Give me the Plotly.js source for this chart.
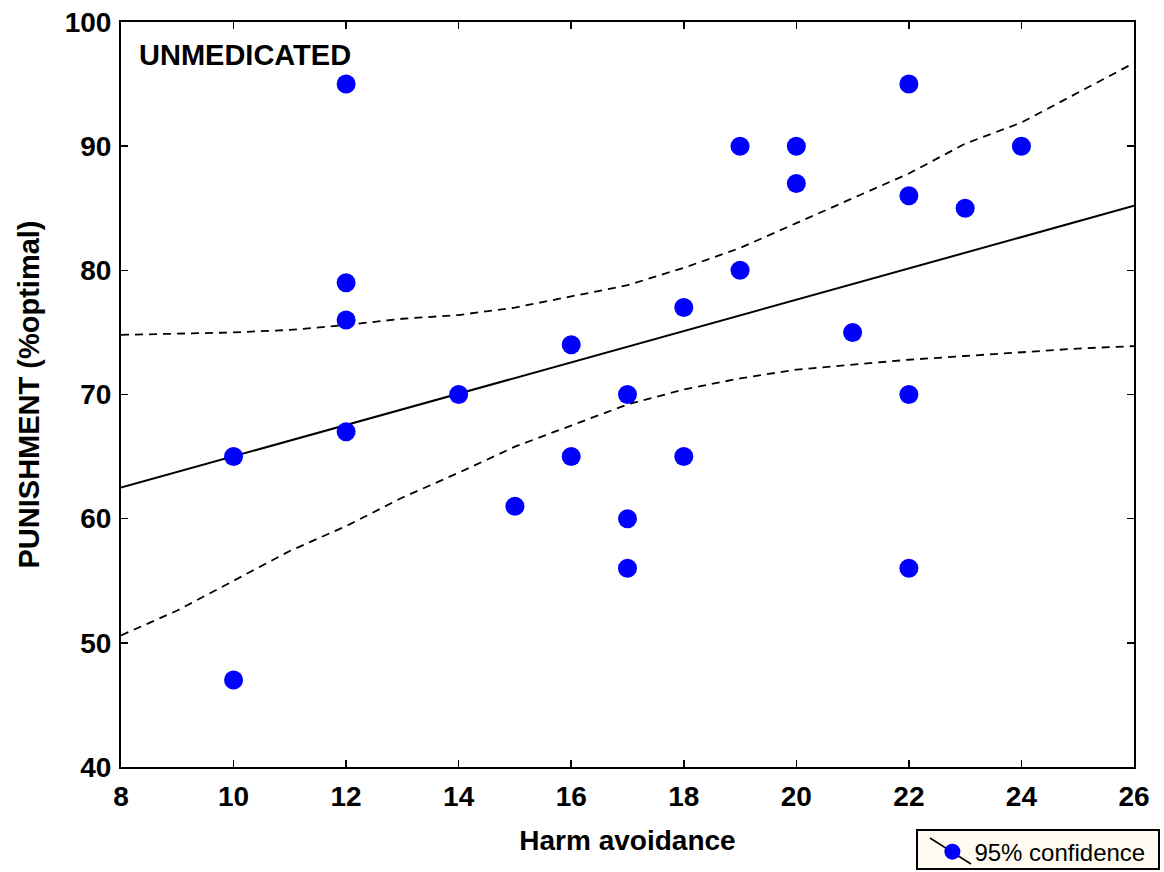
<!DOCTYPE html>
<html>
<head>
<meta charset="utf-8">
<script src="https://cdn.plot.ly/plotly-3.0.1.min.js"></script>
<style>
  html, body { margin: 0; padding: 0; background: #ffffff; }
  #chart { width: 1164px; height: 872px; }
</style>
</head>
<body>
<div id="chart"></div>
<script>
// Harm avoidance score vs. punishment learning (% optimal), unmedicated group
const harmAvoidance = [10, 10, 12, 12, 12, 12, 14, 15, 16, 16, 17, 17, 17, 18, 18, 19, 19, 20, 20, 21, 22, 22, 22, 22, 23, 24];
const punishment    = [65, 47, 95, 79, 76, 67, 70, 61, 74, 65, 70, 60, 56, 77, 65, 90, 80, 90, 87, 75, 95, 86, 70, 56, 85, 90];

// Linear fit end points
const fitX = [8, 26];
const fitY = [62.5, 85.2];

// 95% confidence band
const bandX     = [8, 9, 10, 11, 12, 13, 14, 15, 16, 17, 18, 19, 20, 21, 22, 23, 24, 25, 26];
const bandUpper = [74.8, 74.9, 75.0, 75.2, 75.6, 76.1, 76.4, 77.0, 77.9, 78.8, 80.2, 81.8, 83.8, 85.8, 87.8, 90.2, 91.9, 94.3, 96.7];
const bandLower = [50.6, 52.6, 55.0, 57.4, 59.4, 61.7, 63.7, 65.8, 67.5, 69.2, 70.4, 71.3, 72.0, 72.4, 72.8, 73.1, 73.4, 73.7, 73.9];

const xTicks = [8, 10, 12, 14, 16, 18, 20, 22, 24, 26];
const yTicks = [40, 50, 60, 70, 80, 90, 100];

const FONT = 'Liberation Sans, Arial, sans-serif';
const dashStyle = { color: '#000000', width: 1.8, dash: '8px,6px' };

const traces = [
  {
    x: bandX, y: bandUpper, mode: 'lines', line: dashStyle,
    showlegend: false, hoverinfo: 'skip'
  },
  {
    x: bandX, y: bandLower, mode: 'lines', line: dashStyle,
    showlegend: false, hoverinfo: 'skip'
  },
  {
    x: fitX, y: fitY, mode: 'lines',
    line: { color: '#000000', width: 2 },
    showlegend: false, hoverinfo: 'skip'
  },
  {
    x: harmAvoidance, y: punishment, mode: 'markers',
    name: '95% confidence',
    marker: { color: '#0000ff', size: 19 },
    showlegend: true
  }
];

const axisCommon = {
  showgrid: false,
  zeroline: false,
  showline: true,
  linecolor: '#000000',
  linewidth: 2,
  mirror: 'ticks',
  ticks: 'inside',
  ticklen: 7,
  tickwidth: 1.5,
  tickcolor: '#000000',
  tickfont: { family: FONT, size: 28, color: '#000000', weight: 'bold' }
};

const layout = {
  width: 1164,
  height: 872,
  paper_bgcolor: '#ffffff',
  plot_bgcolor: '#ffffff',
  margin: { l: 121, r: 30, t: 22, b: 105, autoexpand: false },
  xaxis: Object.assign({}, axisCommon, {
    range: [8, 26],
    tickvals: xTicks,
    ticktext: xTicks.map(String),
    ticklabelstandoff: 3,
    title: { text: 'Harm avoidance', standoff: 20,
             font: { family: FONT, size: 28, color: '#000000', weight: 'bold' } }
  }),
  yaxis: Object.assign({}, axisCommon, {
    range: [40, 100],
    tickvals: yTicks,
    ticktext: yTicks.map(String),
    ticklabelstandoff: 2,
    title: { text: 'PUNISHMENT (%optimal)', standoff: 17,
             font: { family: FONT, size: 29, color: '#000000', weight: 'bold' } }
  }),
  showlegend: true,
  legend: {
    x: 0.799, y: -0.084, xanchor: 'left', yanchor: 'top',
    bgcolor: 'rgba(0,0,0,0)',
    borderwidth: 0,
    font: { family: FONT, size: 24, color: '#000000' },
    itemwidth: 34
  },
  shapes: [
    // legend frame
    {
      type: 'rect', xref: 'paper', yref: 'paper', layer: 'above',
      x0: (917 - 121) / 1013, x1: (1159 - 121) / 1013,
      y0: -(869 - 767) / 745, y1: -(830 - 767) / 745,
      fillcolor: '#fffbf0', line: { color: '#000000', width: 2 }
    },
    // slanted stroke behind the legend marker
    {
      type: 'line', xref: 'paper', yref: 'paper', layer: 'above',
      x0: (930 - 121) / 1013, x1: (971 - 121) / 1013,
      y0: -(838 - 767) / 745, y1: -(864 - 767) / 745,
      line: { color: '#000000', width: 1.5 }
    }
  ],
  annotations: [
    {
      xref: 'paper', yref: 'paper', x: 0.016, y: 0.956,
      xanchor: 'left', yanchor: 'middle', showarrow: false,
      text: 'UNMEDICATED',
      font: { family: FONT, size: 29, color: '#000000', weight: 'bold' }
    }
  ]
};

Plotly.newPlot('chart', traces, layout, { displayModeBar: false, staticPlot: true });
</script>
</body>
</html>
